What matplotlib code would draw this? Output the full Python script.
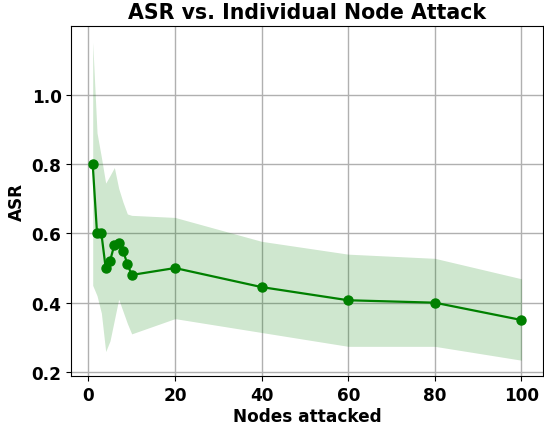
import matplotlib
matplotlib.use("Agg")
import matplotlib.pyplot as plt

nodes = [1, 2, 3, 4, 5, 6, 7, 8, 9, 10, 20, 40, 60, 80, 100]
asr_mean = [0.80, 0.60, 0.60, 0.50, 0.52, 0.567, 0.571, 0.55, 0.512, 0.48, 0.50, 0.445, 0.407, 0.40, 0.35]
asr_upper = [1.152, 0.89, 0.82, 0.745, 0.767, 0.79, 0.73, 0.69, 0.656, 0.652, 0.646, 0.577, 0.54, 0.528, 0.469]
asr_lower = [0.45, 0.42, 0.37, 0.259, 0.29, 0.35, 0.41, 0.375, 0.34, 0.31, 0.354, 0.314, 0.274, 0.274, 0.234]

fig = plt.figure(figsize=(5.44, 4.31), dpi=100)
ax = fig.add_axes([0.131, 0.125, 0.867, 0.812])

ax.fill_between(nodes, asr_lower, asr_upper, color="green", alpha=0.19, linewidth=0)
ax.plot(nodes, asr_mean, color="green", marker="o", linewidth=1.6, markersize=6.5)

ax.set_title("ASR vs. Individual Node Attack", fontsize=14.8, fontweight="bold")
ax.set_xlabel("Nodes attacked", fontsize=12.2, fontweight="bold", labelpad=2)
ax.set_ylabel("ASR", fontsize=12.2, fontweight="bold")
ax.set_yticks([0.2, 0.4, 0.6, 0.8, 1.0])
ax.set_xticks([0, 20, 40, 60, 80, 100])
for lab in ax.get_xticklabels() + ax.get_yticklabels():
    lab.set_fontweight("bold")
    lab.set_fontsize(12.2)
ax.grid(True, color="#b0b0b0", linewidth=1)
ax.set_axisbelow(True)

fig.savefig("out.png", dpi=100)
